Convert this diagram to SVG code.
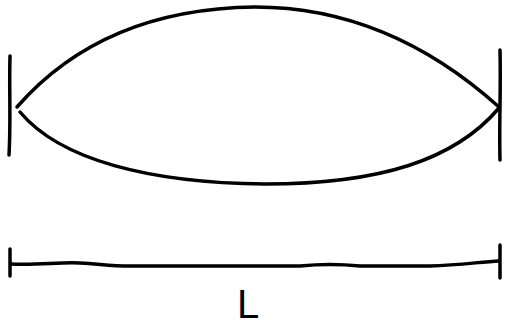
<svg xmlns="http://www.w3.org/2000/svg" width="506" height="329" viewBox="0 0 506 329">
<style>
.s{fill:none;stroke:#000;stroke-width:3.5;stroke-linecap:round;stroke-linejoin:round}
.t{font-family:"Liberation Sans",Arial,sans-serif;font-size:40px;fill:#000}
</style>
<rect width="506" height="329" fill="#fff"/>
<g id="shape">
<path class="s" d="M10,56 C9,90 11,120 9,155"/>
<path class="s" d="M500,50 C501,90 499,125 500,160"/>
<path class="s" d="M17,107 C80,35 165,8 255,7 C350,7 430,45 499,107"/>
<path class="s" d="M20,112 C60,160 150,183 265,184 C380,184 455,160 499,108"/>
</g>
<g id="dimension">
<path class="s" d="M10,249 L10,276"/>
<path class="s" d="M500,245 L500,278"/>
<path class="s" d="M11,264 C40,265 60,262 80,263 C100,264 110,266 130,266 L300,266 C320,264 340,264 360,266 L430,266 C460,265 480,262 499,261"/>
</g>
<g id="label">
<text class="t" x="237" y="318">L</text>
</g>
</svg>
